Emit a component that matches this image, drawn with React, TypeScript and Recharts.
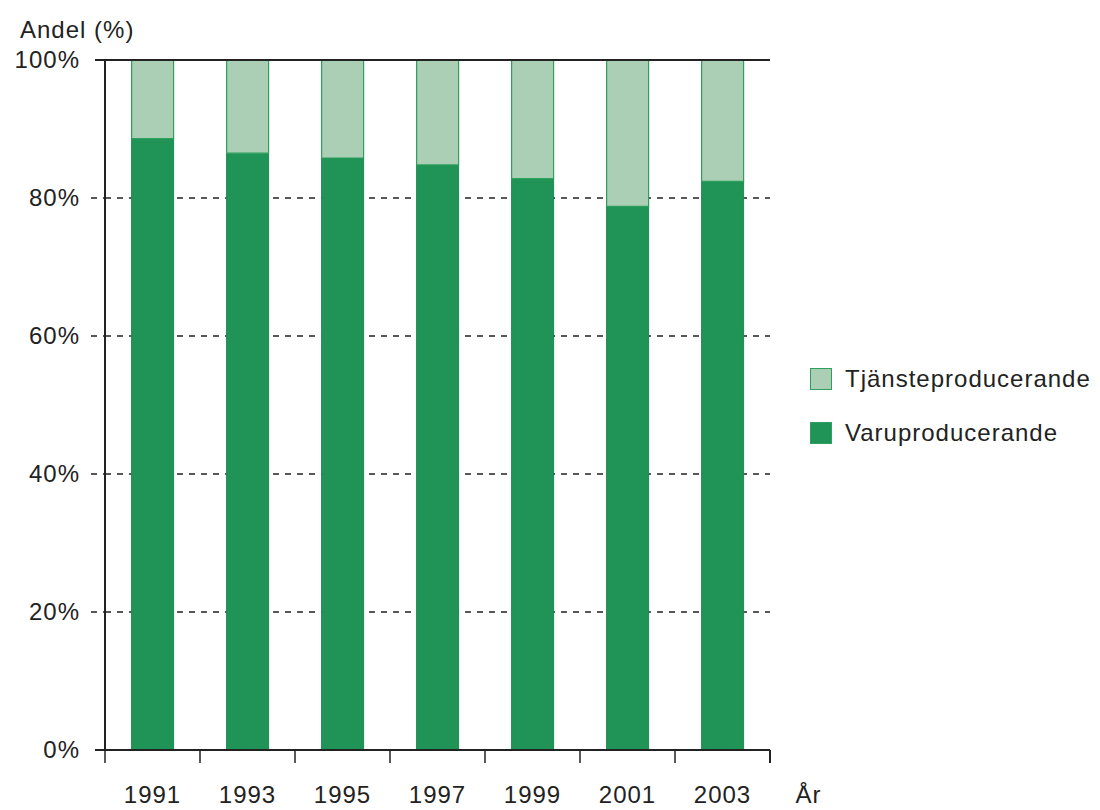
import { Bar, BarChart, CartesianGrid, ReferenceLine, XAxis, YAxis } from "recharts"

const years = ["1991", "1993", "1995", "1997", "1999", "2001", "2003"]
const varuproducerande = [88.6, 86.5, 85.8, 84.8, 82.8, 78.8, 82.4]
const tjansteproducerande = [11.4, 13.5, 14.2, 15.2, 17.2, 21.2, 17.6]
const yTicks = [0, 20, 40, 60, 80, 100]

const data = years.map((year, i) => ({
  year,
  varu: varuproducerande[i],
  tjanste: tjansteproducerande[i],
}))

const FONT = "'Liberation Sans', Arial, Helvetica, sans-serif"
const TEXT = { fontSize: 24, letterSpacing: 1, fill: "#222", fontFamily: FONT }
const DARK = "#1f9456"
const LIGHT = "#abcfb4"
const EDGE = "#2e9f5c"

const W = 1084
const H = 802
const PLOT_LEFT = 97
const PLOT_RIGHT = 762
const PLOT_TOP = 52
const PLOT_BOTTOM = 742
const BAND = (PLOT_RIGHT - PLOT_LEFT) / years.length

function YTick(props: any) {
  const { y, payload } = props
  const edge = payload.value === 0 || payload.value === 100
  return (
    <g>
      <line
        x1={PLOT_LEFT - (edge ? 10 : 14)}
        x2={PLOT_LEFT}
        y1={y}
        y2={y}
        stroke="#222"
        strokeWidth={edge ? 2 : 1.3}
        strokeDasharray={edge ? undefined : "6 6"}
      />
      <text x={PLOT_LEFT - 25} y={y} dy={8} textAnchor="end" {...TEXT}>
        {payload.value}%
      </text>
    </g>
  )
}

function XTick(props: any) {
  const { x, payload, index } = props
  const last = index === years.length - 1
  return (
    <g>
      <line x1={x - BAND / 2} x2={x - BAND / 2} y1={PLOT_BOTTOM} y2={PLOT_BOTTOM + 13} stroke="#222" strokeWidth={1.5} />
      {last && (
        <line x1={x + BAND / 2} x2={x + BAND / 2} y1={PLOT_BOTTOM} y2={PLOT_BOTTOM + 13} stroke="#222" strokeWidth={2} />
      )}
      <text x={x} y={PLOT_BOTTOM + 53} textAnchor="middle" {...TEXT}>
        {payload.value}
      </text>
      {last && (
        <text x={x + 86} y={PLOT_BOTTOM + 53} textAnchor="middle" {...TEXT}>
          År
        </text>
      )}
    </g>
  )
}

function LegendBox() {
  const items = [
    { label: "Tjänsteproducerande", fill: LIGHT },
    { label: "Varuproducerande", fill: DARK },
  ]
  return (
    <div
      style={{
        position: "absolute",
        left: 802,
        top: 344,
        fontFamily: FONT,
        fontSize: 24,
        letterSpacing: 1,
        color: "#222",
      }}
    >
      {items.map((it) => (
        <div key={it.label} style={{ display: "flex", alignItems: "center", height: 54 }}>
          <span
            style={{
              display: "inline-block",
              boxSizing: "border-box",
              width: 22,
              height: 22,
              background: it.fill,
              border: `1.5px solid ${EDGE}`,
              marginRight: 13,
            }}
          />
          {it.label}
        </div>
      ))}
    </div>
  )
}

export default function App() {
  return (
    <div style={{ position: "relative", width: W, height: H, background: "#fff" }}>
      <div
        style={{
          position: "absolute",
          left: 12,
          top: 8,
          fontFamily: FONT,
          fontSize: 24,
          letterSpacing: 1,
          color: "#222",
        }}
      >
        Andel (%)
      </div>
      <BarChart
        width={W}
        height={H}
        data={data}
        margin={{ top: PLOT_TOP, right: W - PLOT_RIGHT, bottom: 0, left: 0 }}
        barCategoryGap="28%"
      >
        <CartesianGrid
          yAxisId="left"
          vertical={false}
          stroke="#222"
          strokeWidth={1.3}
          strokeDasharray="6 6"
          horizontalValues={[20, 40, 60, 80]}
        />
        <XAxis
          dataKey="year"
          height={H - PLOT_BOTTOM}
          tickLine={false}
          axisLine={false}
          tick={<XTick />}
          interval={0}
        />
        <YAxis
          yAxisId="left"
          domain={[0, 100]}
          ticks={yTicks}
          width={PLOT_LEFT}
          tickLine={false}
          axisLine={{ stroke: "#222", strokeWidth: 2 }}
          tick={<YTick />}
          interval={0}
        />
        <YAxis
          yAxisId="right"
          orientation="right"
          domain={[0, 100]}
          width={0}
          tick={false}
          tickLine={false}
          axisLine={{ stroke: "#222", strokeWidth: 2 }}
        />
        <Bar yAxisId="left" dataKey="varu" stackId="a" fill={DARK} stroke="#1c8a4f" strokeWidth={1} isAnimationActive={false} />
        <Bar yAxisId="left" dataKey="tjanste" stackId="a" fill={LIGHT} stroke={EDGE} strokeWidth={1.2} isAnimationActive={false} />
        <ReferenceLine yAxisId="left" y={100} stroke="#222" strokeWidth={2} />
        <ReferenceLine yAxisId="left" y={0} stroke="#222" strokeWidth={2} />
      </BarChart>
      <LegendBox />
    </div>
  )
}
